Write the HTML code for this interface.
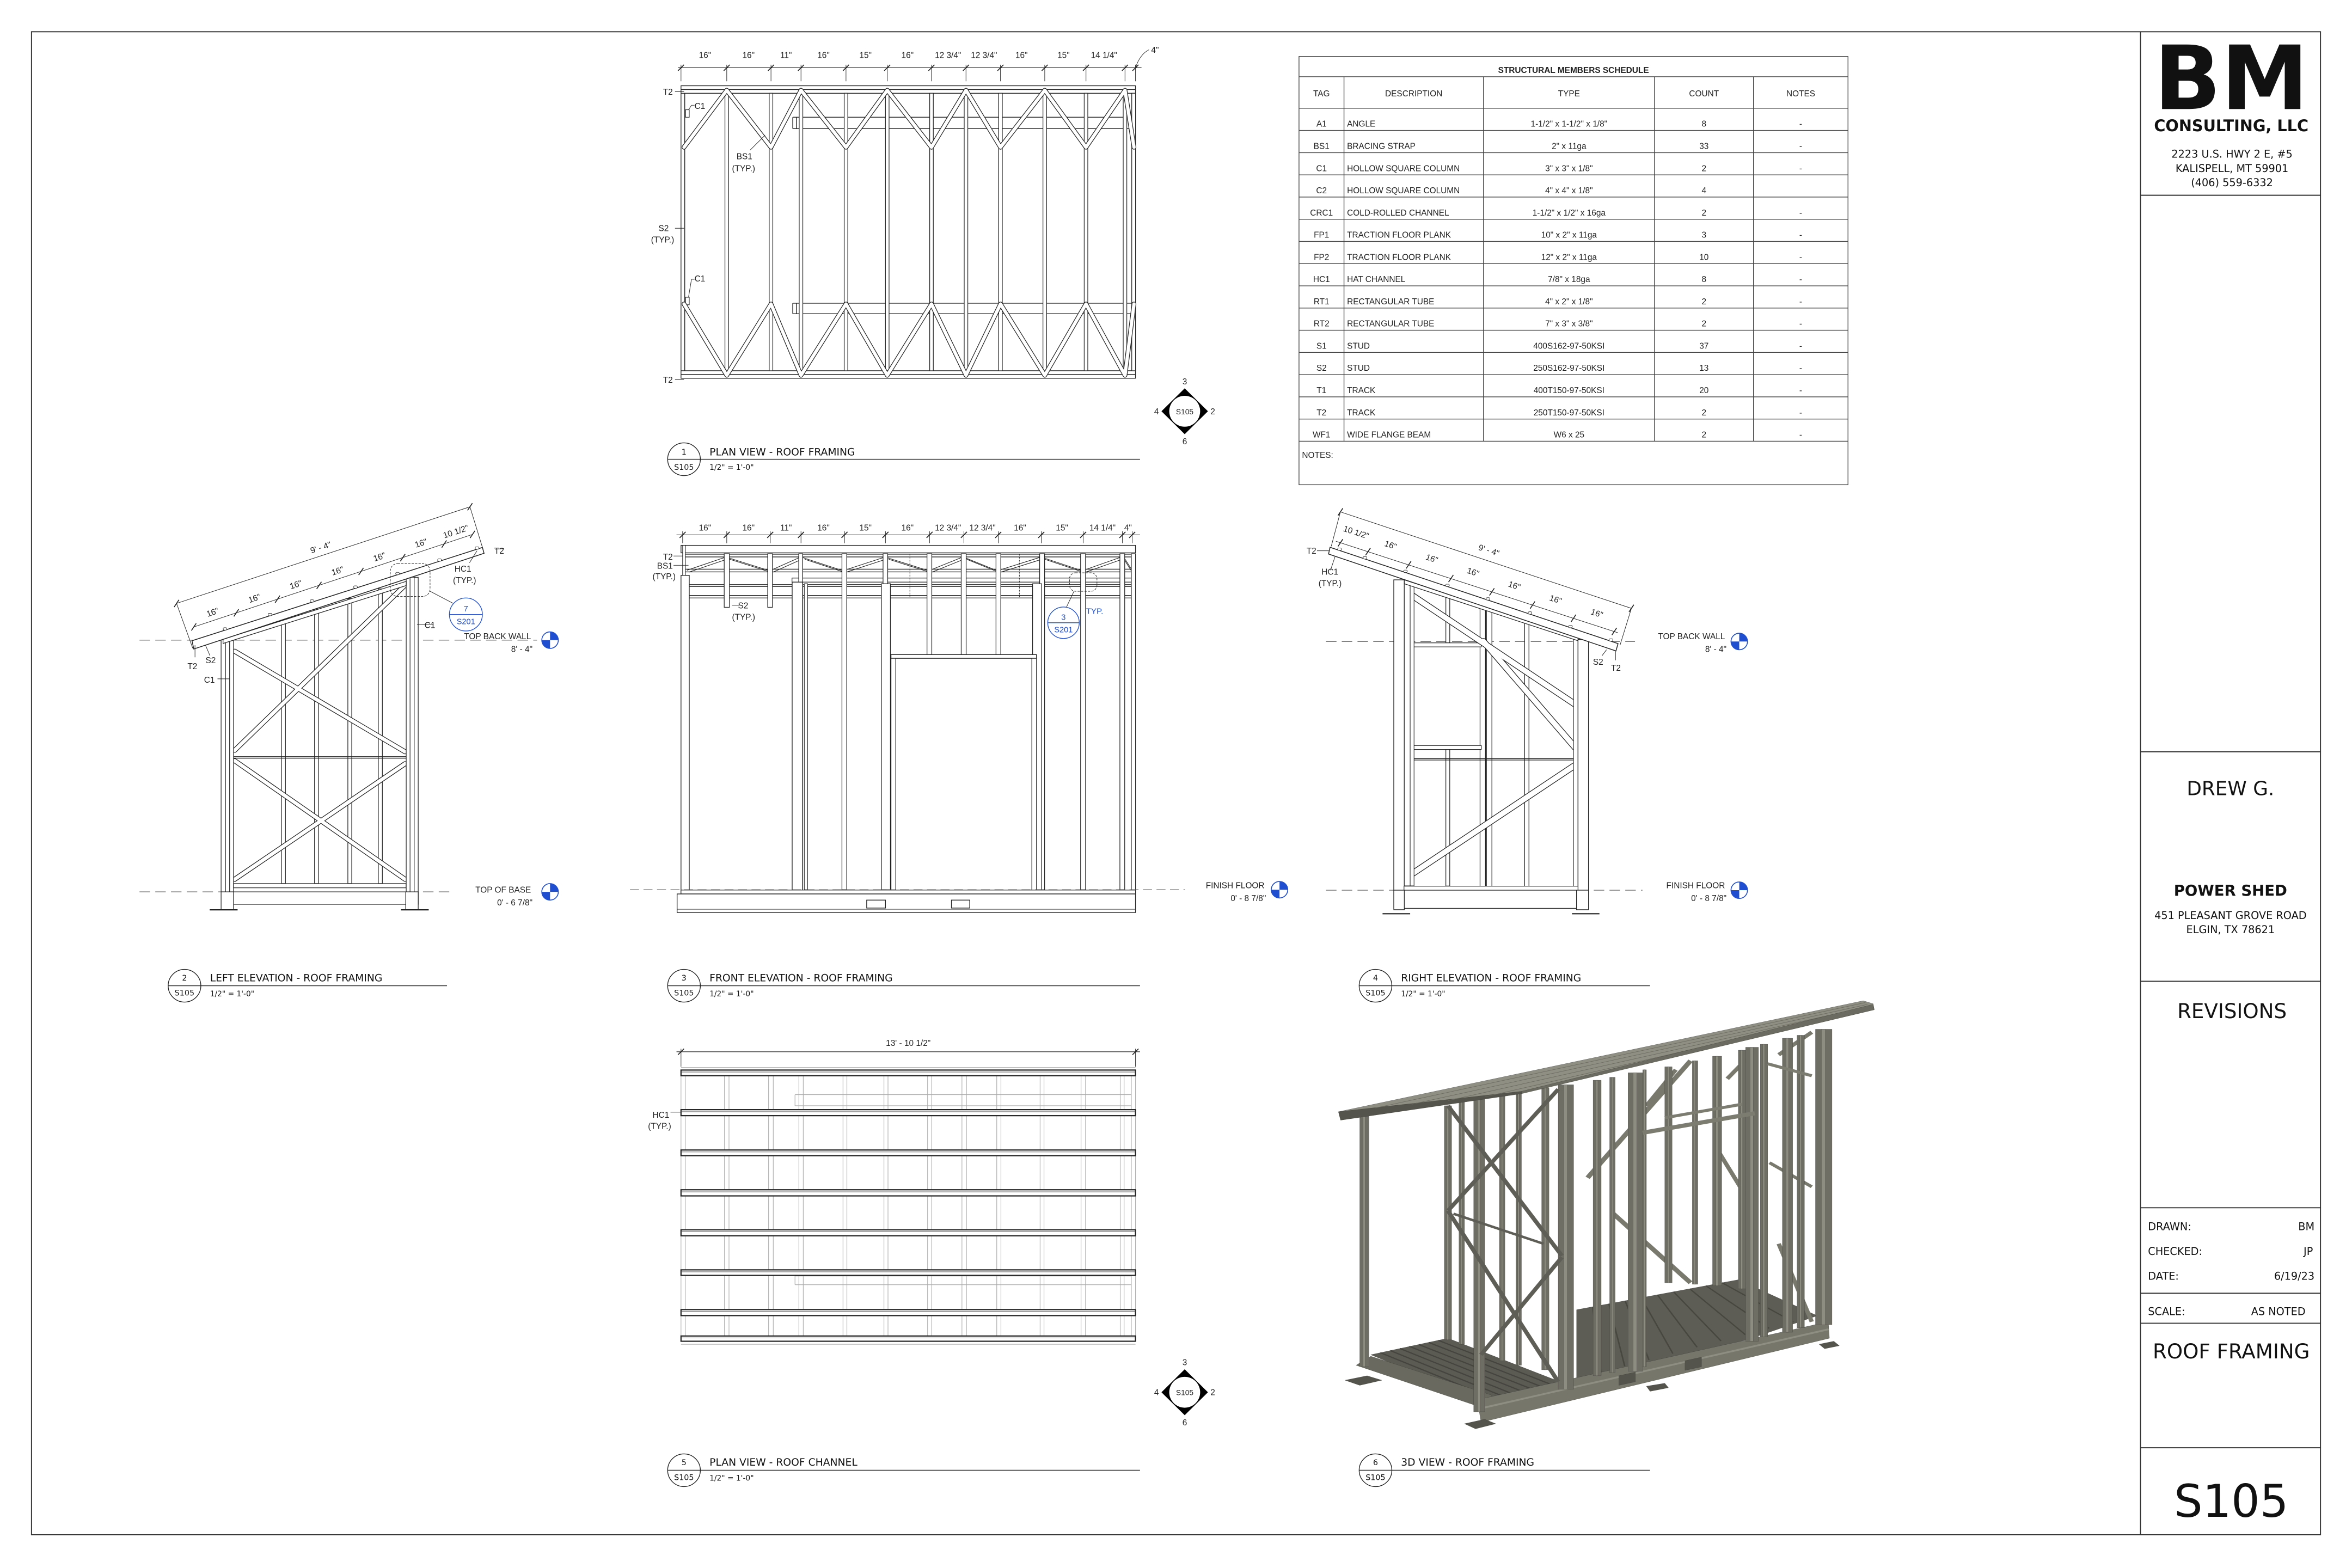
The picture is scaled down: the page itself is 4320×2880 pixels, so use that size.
<!DOCTYPE html>
<html><head><meta charset="utf-8"><style>
html,body{margin:0;padding:0;background:#fff}
svg{display:block}
.t{font-family:"Liberation Sans",sans-serif;font-size:5.6px;fill:#222}
.d{font-family:"DejaVu Sans","Liberation Sans",sans-serif;fill:#111}
.tb{font-family:"Liberation Sans",sans-serif;font-size:5.6px;fill:#222}
.bl{font-family:"Liberation Sans",sans-serif;fill:#1f4fd0}
.p3 polygon,.p3 rect{stroke:#3a3a34;stroke-width:0.35;vector-effect:non-scaling-stroke}
</style></head><body>
<svg xmlns="http://www.w3.org/2000/svg" xmlns:xlink="http://www.w3.org/1999/xlink" width="4320" height="2880" viewBox="0 0 1568 1045">
<defs>
<g id="lv"><circle r="5.5" fill="#fff" stroke="#1f4fd0" stroke-width="0.6"/><path d="M0,0V-5.5A5.5,5.5 0 0 1 5.5,0Z M0,0V5.5A5.5,5.5 0 0 1 -5.5,0Z" fill="#1f4fd0"/></g>
<g id="mk"><polygon points="0,-15.3 15.5,0 0,15.3 -15.5,0" fill="#000"/><circle r="10.3" fill="#fff"/></g>
<path id="zz" d="M456,98L484.5,60L514,98L534,60L564,98L591.5,60L621,98L644,60L667,98L696.5,60L724,98L750,60L756,98 M456,202.5L484.5,250L514,202.5L534,250L564,202.5L591.5,250L621,202.5L644,250L667,202.5L696.5,250L724,202.5L750,250L756,202.5" fill="none" stroke-linecap="round" stroke-linejoin="round"/>
<path id="lb" d="M156.5,434L270,501 M156.5,500L270,390 M156.5,507L270,586 M156.5,586L270,509" fill="none" stroke-linecap="round"/>
<path id="rb" d="M932,390.5L1057,474 M989,427.5L1056,505 M1056,506L933,588" fill="none" stroke-linecap="round" stroke-linejoin="round"/>
<path id="fd" d="M458,380L483,371.5M485,371.5L512,380M514,380L533,371.5M535,371.5L561,380M563,380L589,371.5M591,371.5L618,380M620,380L641,371.5M643,371.5L664,380M666,380L693,371.5M695,371.5L720.5,380M722.5,380L746.6,371.5M748.6,371.5L754,380" fill="none"/>
</defs>
<rect width="1568" height="1045" fill="#fff"/>

<!-- ===== 3D VIEW ===== -->
<g class="p3" transform="translate(882,653) scale(0.245,0.2)">
<polygon points="130,1250 340,1195 655,1345 450,1410" fill="#5c5b53"/>
<g stroke="#45443e" stroke-width="4"><line x1="156" y1="1243" x2="476" y2="1402"/><line x1="183" y1="1236" x2="501" y2="1394"/><line x1="209" y1="1229" x2="527" y2="1386"/><line x1="235" y1="1222" x2="552" y2="1377"/><line x1="261" y1="1216" x2="578" y2="1369"/><line x1="288" y1="1209" x2="604" y2="1361"/><line x1="314" y1="1202" x2="629" y2="1353"/></g>
<polygon points="690,1100 1130,1000 1345,1120 1190,1185 880,1300 690,1330" fill="#5e5d55"/>
<g stroke="#48473f" stroke-width="4"><line x1="734" y1="1090" x2="756" y2="1309"/><line x1="778" y1="1080" x2="821" y2="1288"/><line x1="822" y1="1070" x2="887" y2="1267"/><line x1="866" y1="1060" x2="952" y2="1246"/><line x1="910" y1="1050" x2="1018" y2="1225"/><line x1="954" y1="1040" x2="1083" y2="1204"/><line x1="998" y1="1030" x2="1149" y2="1183"/><line x1="1042" y1="1020" x2="1214" y2="1162"/><line x1="1086" y1="1010" x2="1280" y2="1141"/></g>
<polygon points="90,1285 130,1255 460,1385 430,1425" fill="#6a695f"/>
<polygon points="420,1400 1375,1140 1378,1195 430,1475" fill="#77766b"/>
<line x1="425" y1="1430" x2="1376" y2="1165" stroke="#8f8e83" stroke-width="6"/>
<polygon points="805,1320 850,1308 850,1340 805,1352" fill="#55544c"/><polygon points="985,1270 1030,1258 1030,1290 985,1302" fill="#55544c"/>
<polygon points="60,1335 120,1320 160,1335 100,1352" fill="#55544c"/><polygon points="385,1480 440,1465 470,1480 415,1497" fill="#55544c"/>
<polygon points="880,1355 930,1345 940,1360 890,1372" fill="#55544c"/><polygon points="1350,1215 1390,1205 1405,1220 1365,1230" fill="#55544c"/>
<g stroke="#7a796e"><line x1="720" y1="660" x2="1000" y2="270" stroke-width="14"/><line x1="790" y1="780" x2="1000" y2="1010" stroke-width="14"/><line x1="880" y1="420" x2="960" y2="300" stroke-width="12"/><line x1="1240" y1="880" x2="1330" y2="1140" stroke-width="12"/><line x1="1080" y1="580" x2="1150" y2="720" stroke-width="12"/><line x1="1215" y1="610" x2="1330" y2="690" stroke-width="10"/><line x1="1100" y1="330" x2="1180" y2="230" stroke-width="12"/><line x1="1240" y1="250" x2="1330" y2="175" stroke-width="12"/></g>
<g fill="#6f6e64">
<rect x="930" y="290" width="20" height="720"/><rect x="1005" y="270" width="15" height="745"/><rect x="1060" y="255" width="25" height="765"/><rect x="1130" y="235" width="20" height="795"/><rect x="1190" y="215" width="20" height="975"/><rect x="1250" y="195" width="28" height="980"/><rect x="1290" y="185" width="20" height="975"/><rect x="1340" y="165" width="45" height="985"/><rect x="480" y="385" width="15" height="885"/><rect x="525" y="375" width="15" height="910"/><rect x="595" y="360" width="20" height="940"/><rect x="735" y="335" width="22" height="985"/><rect x="780" y="325" width="15" height="985"/><rect x="830" y="310" width="40" height="995"/><rect x="870" y="300" width="10" height="990"/><rect x="1150" y="225" width="35" height="980"/><rect x="330" y="420" width="20" height="780"/><rect x="370" y="405" width="15" height="810"/><rect x="640" y="350" width="42" height="1015"/><rect x="410" y="395" width="30" height="1045"/><rect x="100" y="455" width="25" height="835"/>
</g>
<g fill="#8e8d82" style="stroke:none">
<rect x="937" y="290" width="5" height="720"/><rect x="1010" y="270" width="4" height="745"/><rect x="1069" y="255" width="6" height="765"/><rect x="1137" y="235" width="5" height="795"/><rect x="1197" y="215" width="5" height="975"/><rect x="1260" y="195" width="7" height="980"/><rect x="1297" y="185" width="5" height="975"/><rect x="1356" y="165" width="11" height="985"/><rect x="485" y="385" width="4" height="885"/><rect x="530" y="375" width="4" height="910"/><rect x="602" y="360" width="5" height="940"/><rect x="743" y="335" width="5" height="985"/><rect x="785" y="325" width="4" height="985"/><rect x="844" y="310" width="10" height="995"/><rect x="873" y="300" width="3" height="990"/><rect x="1162" y="225" width="9" height="980"/><rect x="337" y="420" width="5" height="780"/><rect x="375" y="405" width="4" height="810"/><rect x="655" y="350" width="10" height="1015"/><rect x="420" y="395" width="8" height="1045"/><rect x="109" y="455" width="6" height="835"/>
</g>
<g stroke="#5f5e56"><line x1="340" y1="420" x2="650" y2="920" stroke-width="12"/><line x1="640" y1="365" x2="340" y2="770" stroke-width="12"/><line x1="340" y1="770" x2="640" y2="1340" stroke-width="12"/><line x1="650" y1="925" x2="430" y2="1250" stroke-width="12"/><line x1="355" y1="780" x2="600" y2="880" stroke-width="8"/>
<line x1="870" y1="510" x2="1175" y2="445" stroke-width="14" stroke="#7d7c71"/><line x1="930" y1="460" x2="1140" y2="415" stroke-width="10" stroke="#7d7c71"/><line x1="1210" y1="280" x2="1330" y2="320" stroke-width="10" stroke="#7d7c71"/></g>
<polygon points="42,440 1470,70 1497,80 1500,100 540,378 48,468" fill="#908f84"/>
<polygon points="42,440 540,372 540,380 48,468" fill="#55544c"/>
<g stroke="#6a695f" stroke-width="1.5"><line x1="141.6" y1="427.6" x2="1476" y2="76"/><line x1="241.2" y1="415.2" x2="1482" y2="82"/><line x1="340.8" y1="402.8" x2="1488" y2="88"/><line x1="440.4" y1="390.4" x2="1494" y2="94"/></g>
<polygon points="540,372 1497,82 1500,100 540,380" fill="#6c6b61"/>
</g>

<!-- ===== DRAWINGS (line work) ===== -->
<g fill="#fff" stroke="#222" stroke-width="0.5">
<line x1="452" y1="45" x2="761" y2="45" stroke-width="0.4"/>
<path fill="none" stroke-width="0.6" d="M452,47l4-4M482.5,47l4-4M512,47l4-4M532,47l4-4M562,47l4-4M589.5,47l4-4M619,47l4-4M642,47l4-4M665,47l4-4M694.5,47l4-4M722,47l4-4M748,47l4-4M755,47l4-4"/>
<path fill="none" stroke-width="0.35" d="M454,43V54M484.5,43V54M514,43V54M534,43V54M564,43V54M591.5,43V54M621,43V54M644,43V54M667,43V54M696.5,43V54M724,43V54M750,43V54M757,43V54M757,45Q760,36 766,33"/>
<rect x="454" y="57" width="303" height="195"/>
<path fill="none" d="M454,59.5H757M454,62H757M454,247H757M454,249.5H757M456.5,62V247M528.5,78H757M528.5,85.6H757M528.5,78V85.6M531,78V85.6M528.5,202H757M528.5,209H757M528.5,202V209M531,202V209"/>
<g stroke-width="0.45">
<rect x="483.3" y="62" width="2.4" height="185"/><rect x="512.8" y="62" width="2.4" height="185"/><rect x="532.8" y="62" width="2.4" height="185"/><rect x="562.8" y="62" width="2.4" height="185"/><rect x="590.3" y="62" width="2.4" height="185"/><rect x="619.8" y="62" width="2.4" height="185"/><rect x="642.8" y="62" width="2.4" height="185"/><rect x="665.8" y="62" width="2.4" height="185"/><rect x="695.3" y="62" width="2.4" height="185"/><rect x="722.8" y="62" width="2.4" height="185"/><rect x="748.8" y="62" width="2.4" height="185"/><rect x="754.5" y="62" width="2.5" height="185"/>
</g>
<rect x="457" y="73" width="2.5" height="5" stroke-width="0.4"/><rect x="457" y="198" width="2.5" height="5" stroke-width="0.4"/>
<use xlink:href="#zz" stroke="#222" stroke-width="3.1"/>
<use xlink:href="#zz" stroke="#fff" stroke-width="2.2"/>
<path fill="none" stroke-width="0.35" d="M459,73L461,70H463M459,198L461,186H463M450,61H456M450,253H456M450,152H456M500,100L510,90"/>

<line x1="451" y1="356.4" x2="760" y2="356.4" stroke-width="0.4"/>
<path fill="none" stroke-width="0.6" d="M453.1,358.4l4-4M482.5,358.4l4-4M511.5,358.4l4-4M532,358.4l4-4M561,358.4l4-4M588.3,358.4l4-4M617.7,358.4l4-4M640.6,358.4l4-4M663.5,358.4l4-4M692.2,358.4l4-4M720.1,358.4l4-4M746.3,358.4l4-4M752.8,358.4l4-4"/>
<path fill="none" stroke-width="0.35" d="M455.1,354V362M484.5,354V362M513.5,354V362M534,354V362M563,354V362M590.3,354V362M619.7,354V362M642.6,354V362M665.5,354V362M694.2,354V362M722.1,354V362M748.3,354V362M754.8,354V362"/>
<path fill="none" d="M456,369.3H757M456,371.1H757M456,379.3H757M456,381.1H757"/>
<use xlink:href="#fd" stroke-width="0.4"/>
<use xlink:href="#fd" stroke-width="0.4" transform="translate(1.5,1.2)"/>
<rect x="454" y="363.4" width="303" height="5"/>
<path fill="none" d="M459.5,389.6H757M459.5,390.8H757M459.5,396.8H757M459.5,398.5H757"/>
<rect x="528" y="385.2" width="229" height="2.7" stroke-width="0.45"/>
<g stroke-width="0.45">
<rect x="482.8" y="369" width="3.5" height="35.7"/><rect x="511.8" y="369" width="3.2" height="35.7"/><rect x="532.5" y="369" width="2.6" height="224"/><rect x="561.3" y="369" width="3.2" height="224"/><rect x="588.7" y="369" width="3.1" height="224"/><rect x="618" y="369" width="3.2" height="67.2"/><rect x="640.8" y="369" width="3.3" height="67.2"/><rect x="664" y="369" width="3.2" height="67.2"/><rect x="693.1" y="369" width="3.3" height="224"/><rect x="720.4" y="369" width="3.3" height="224"/><rect x="746.6" y="369" width="3.2" height="224"/><rect x="754.2" y="369" width="2.8" height="226.8"/>
<rect x="454" y="383.4" width="5.5" height="212.4" stroke-width="0.5"/><rect x="455.1" y="363.4" width="1.8" height="20" stroke-width="0.4"/>
<rect x="528.1" y="387.9" width="7" height="207.9" stroke-width="0.5"/><rect x="536.2" y="389" width="2.2" height="204" stroke-width="0.4"/>
<rect x="587.6" y="389" width="6" height="204"/><rect x="688.4" y="389" width="6" height="204"/>
<rect x="594" y="436.2" width="97" height="2.5" stroke-width="0.5"/><rect x="594" y="438.7" width="3.2" height="154.5"/><rect x="687.9" y="438.7" width="3.1" height="154.5"/>
<rect x="454" y="593.2" width="303" height="2.6"/>
</g>
<path fill="none" stroke-width="0.35" stroke-dasharray="1.2,0.8" d="M606.6,369V398M679.6,369V398"/>
<rect x="451.4" y="595.8" width="305.6" height="12.4"/>
<line x1="451.4" y1="606" x2="757" y2="606" stroke-width="0.35"/>
<rect x="577.8" y="599.9" width="12.5" height="5.3"/><rect x="634.3" y="599.9" width="12.2" height="5.3"/>
<line x1="420" y1="593" x2="790" y2="593" stroke="#555" stroke-width="0.4" stroke-dasharray="6,3"/>
<circle cx="709" cy="415" r="10.5" fill="none" stroke="#1f4fd0"/>
<line x1="698.5" y1="415" x2="719.5" y2="415" stroke="#1f4fd0"/>
<rect x="713" y="381.7" width="18.3" height="12.3" rx="4" fill="none" stroke-width="0.35" stroke-dasharray="1.5,0.8"/>
<path fill="none" stroke-width="0.35" d="M716,394L711,404.5M449,370.5H455M449,376.7H459M488,403.3H493"/>

<line x1="93" y1="426.6" x2="358" y2="426.6" stroke="#555" stroke-width="0.4" stroke-dasharray="7,3.5"/>
<line x1="93" y1="594.4" x2="300" y2="594.4" stroke="#555" stroke-width="0.4" stroke-dasharray="7,3.5"/>
<g stroke-width="0.45">
<rect x="187.6" y="412.85" width="2.7" height="176.05"/><rect x="209.7" y="405.87" width="2.7" height="183.03"/><rect x="231.9" y="398.89" width="2.6" height="190"/><rect x="252.2" y="392.44" width="2.7" height="196.46"/>
</g>
<path fill="none" d="M155.7,504.3H270.8M155.7,505.3H270.8"/>
<use xlink:href="#lb" stroke="#222" stroke-width="3.3"/>
<use xlink:href="#lb" stroke="#fff" stroke-width="2.4"/>
<g stroke-width="0.45">
<rect x="147.4" y="426" width="3" height="168.4"/><rect x="150.4" y="426" width="2.7" height="168.4" stroke-width="0.35"/><rect x="153.1" y="426" width="2.6" height="168.4"/>
<rect x="270.8" y="384.7" width="2.6" height="209.7"/><rect x="273.4" y="384.7" width="2.7" height="209.7" stroke-width="0.35"/><rect x="276.1" y="384.7" width="2.7" height="209.7"/>
<polygon points="148.7,426 270.8,387.4 270.8,390.2 148.7,428.8"/>
</g>
<polygon points="128,427 321.6,364.8 322.7,368.7 129.2,432.5" stroke-width="0.55"/>
<g stroke-width="0.3">
<rect x="148.8" y="418.3" width="2.4" height="1.6" rx="0.6"/><rect x="178.8" y="408.7" width="2.4" height="1.6" rx="0.6"/><rect x="206.8" y="399.7" width="2.4" height="1.6" rx="0.6"/><rect x="235.8" y="390.4" width="2.4" height="1.6" rx="0.6"/><rect x="263.8" y="381.4" width="2.4" height="1.6" rx="0.6"/><rect x="291.8" y="372.4" width="2.4" height="1.6" rx="0.6"/><rect x="316.8" y="364.4" width="2.4" height="1.6" rx="0.6"/>
</g>
<g stroke-width="0.45">
<rect x="155.7" y="588.9" width="115" height="2.8"/><rect x="147.4" y="594.4" width="131.4" height="8.3"/>
<rect x="147.4" y="594.4" width="8.3" height="12"/><rect x="270.5" y="594.4" width="8.3" height="12"/>
</g>
<path fill="none" stroke-width="0.8" d="M139.8,606.4H158.4M267.3,606.4H285.8"/>
<path fill="none" stroke-width="0.35" d="M117.7,402.1L313.3,337.7M129.2,417.8L315,356.1M117.7,402.1L128.5,432M313.3,337.7L322,366"/>
<path fill="none" stroke-width="0.6" d="M116.1,404.5l3.2-4.8M311.7,340.1l3.2-4.8M127.6,420.2l3.2-4.8M155.9,410.8l3.2-4.8M183.4,401.7l3.2-4.8M211.1,392.5l3.2-4.8M239.1,383.2l3.2-4.8M266.9,374l3.2-4.8M294.5,364.9l3.2-4.8M313.4,358.5l3.2-4.8"/>
<circle cx="310.6" cy="409.5" r="11" fill="none" stroke="#1f4fd0"/>
<line x1="299.6" y1="409.5" x2="321.6" y2="409.5" stroke="#1f4fd0"/>
<rect x="260.2" y="375.5" width="26.5" height="22" rx="5" fill="none" stroke-width="0.35" stroke-dasharray="1.5,0.8"/>
<path fill="none" stroke-width="0.35" d="M286.7,394L302,402M336,365.5L330,366M318,367L313,375M289,416H278M130,438V430M140,437L137,430M145,452.4H153"/>

<line x1="884" y1="427.5" x2="1090" y2="427.5" stroke="#555" stroke-width="0.4" stroke-dasharray="7,3.5"/>
<line x1="884" y1="593.3" x2="1095" y2="593.3" stroke="#555" stroke-width="0.4" stroke-dasharray="7,3.5"/>
<g stroke-width="0.45">
<rect x="963.9" y="395.5" width="2.6" height="32.9"/><rect x="963.9" y="499.5" width="2.6" height="91"/>
<rect x="986.7" y="402.96" width="3.6" height="187.64"/><rect x="991" y="404.37" width="3.6" height="186.23"/>
<rect x="1016.4" y="412.71" width="2.9" height="177.89"/>
<rect x="941.5" y="428.4" width="46" height="2.7"/><rect x="941.5" y="496.8" width="46" height="2.7"/>
</g>
<path fill="none" d="M942.7,505.5H1049M942.7,506.5H1049"/>
<use xlink:href="#rb" stroke="#222" stroke-width="4.4"/>
<use xlink:href="#rb" stroke="#fff" stroke-width="3.5"/>
<g stroke-width="0.45">
<rect x="929.2" y="386.4" width="7" height="206.9" stroke-width="0.5"/><rect x="936.2" y="386.4" width="3.9" height="204" stroke-width="0.4"/><rect x="940.1" y="386.4" width="2.6" height="204" stroke-width="0.4"/>
<rect x="1049" y="426" width="3" height="165" stroke-width="0.4"/><rect x="1052" y="426.2" width="7" height="167.1" stroke-width="0.5"/>
<polygon points="936.2,386.4 1052,424.4 1052,427 936.2,389"/>
</g>
<polygon points="886.7,364.7 1078.7,428.9 1077.3,433.8 885.7,369.2" stroke-width="0.55"/>
<g stroke-width="0.3">
<rect x="891.8" y="365.2" width="2.4" height="1.6" rx="0.6"/><rect x="908.8" y="370.9" width="2.4" height="1.6" rx="0.6"/><rect x="935.8" y="379.9" width="2.4" height="1.6" rx="0.6"/><rect x="963.8" y="389.3" width="2.4" height="1.6" rx="0.6"/><rect x="990.8" y="398.3" width="2.4" height="1.6" rx="0.6"/><rect x="1018.8" y="407.7" width="2.4" height="1.6" rx="0.6"/><rect x="1045.8" y="416.7" width="2.4" height="1.6" rx="0.6"/><rect x="1072.8" y="425.7" width="2.4" height="1.6" rx="0.6"/>
</g>
<g stroke-width="0.45">
<rect x="936" y="590.6" width="116" height="2.7"/><rect x="929.2" y="593.3" width="129.8" height="12.1"/>
<rect x="929.2" y="593.3" width="7" height="13"/><rect x="1051" y="593.3" width="8" height="13"/>
</g>
<path fill="none" stroke-width="0.8" d="M921.7,609H940.1M1048,609H1066.3"/>
<path fill="none" stroke-width="0.35" d="M893.6,341.1L1087.6,405.4M890.6,360.7L1078.7,421.7M893.6,341.1L887.5,364M1087.6,405.4L1080,430M878,367H886M887,380L890,371M1068,437L1071,433M1077,440V434"/>
<path fill="none" stroke-width="0.6" d="M892,343.5l3.2-4.8M1086,407.8l3.2-4.8M892,364.1l3.2-4.8M910.4,370l3.2-4.8M937.5,378.8l3.2-4.8M965.7,387.9l3.2-4.8M993,396.8l3.2-4.8M1020.1,405.6l3.2-4.8M1047.4,414.4l3.2-4.8M1074.6,423.2l3.2-4.8"/>

<line x1="451" y1="701" x2="760" y2="701" stroke-width="0.4"/>
<path fill="none" stroke-width="0.6" d="M452,703l4-4M755,703l4-4"/>
<path fill="none" stroke-width="0.35" d="M454,699V711M757,699V711M447,741.3H456"/>
<path fill="none" stroke="#aaa" stroke-width="0.4" d="M454,717V892M456.8,717V892M483,717V892M486,717V892M512.4,717V892M515.5,717V892M532.6,717V892M535.5,717V892M562,717V892M564.6,717V892M589.3,717V892M592,717V892M618.4,717V892M621.2,717V892M641.3,717V892M644.3,717V892M664.5,717V892M667.3,717V892M693.4,717V892M696,717V892M720.7,717V892M723.7,717V892M746.8,717V892M749.4,717V892M754.2,717V892M757,717V892M530,729.6H754M530,737H754M530,729.6V737M530,850.5H754M530,856.3H754M530,850.5V856.3M454,711.5H757M454,896H757"/>
<g stroke-width="0.8">
<rect x="454" y="713.2" width="303" height="3.8"/><rect x="454" y="739.6" width="303" height="4"/><rect x="454" y="766.5" width="303" height="3.8"/><rect x="454" y="793" width="303" height="4.1"/><rect x="454" y="819.7" width="303" height="4"/><rect x="454" y="846.4" width="303" height="3.7"/><rect x="454" y="872.9" width="303" height="4"/><rect x="454" y="890.5" width="303" height="3.5"/>
</g>
<path fill="none" stroke="#444" stroke-width="0.35" d="M454,714.5H757M454,741H757M454,767.8H757M454,794.4H757M454,821H757M454,847.7H757M454,874.2H757M454,891.8H757"/>
</g>

<use xlink:href="#lv" x="853" y="593"/>
<use xlink:href="#lv" x="366.7" y="426.6"/>
<use xlink:href="#lv" x="366.7" y="594.4"/>
<use xlink:href="#lv" x="1159.5" y="427.5"/>
<use xlink:href="#lv" x="1159.5" y="593.3"/>
<use xlink:href="#mk" x="789.8" y="274"/>
<use xlink:href="#mk" x="789.8" y="928"/>

<g fill="#fff" stroke="#222" stroke-width="0.5">
<circle cx="456" cy="306" r="10.9"/><line x1="445.1" y1="306" x2="760" y2="306"/>
<circle cx="123" cy="657" r="10.9"/><line x1="112.1" y1="657" x2="298" y2="657"/>
<circle cx="456" cy="657" r="10.9"/><line x1="445.1" y1="657" x2="760" y2="657"/>
<circle cx="917" cy="657" r="10.9"/><line x1="906.1" y1="657" x2="1100" y2="657"/>
<circle cx="456" cy="980" r="10.9"/><line x1="445.1" y1="980" x2="760" y2="980"/>
<circle cx="917" cy="980" r="10.9"/><line x1="906.1" y1="980" x2="1100" y2="980"/>
</g>

<g fill="none" stroke="#333" stroke-width="0.7">
<rect x="21" y="21" width="1526" height="1002"/>
<line x1="1427" y1="21" x2="1427" y2="1023"/>
<line x1="1427" y1="130" x2="1547" y2="130"/>
<line x1="1427" y1="501" x2="1547" y2="501"/>
<line x1="1427" y1="654" x2="1547" y2="654"/>
<line x1="1427" y1="805" x2="1547" y2="805"/>
<line x1="1427" y1="862" x2="1547" y2="862"/>
<line x1="1427" y1="882" x2="1547" y2="882"/>
<line x1="1427" y1="965" x2="1547" y2="965"/>
</g>
<text x="1487.5" y="72.5" class="d" font-size="59" font-weight="bold" text-anchor="middle" textLength="103" lengthAdjust="spacingAndGlyphs">BM</text>
<text x="1487.5" y="87.3" class="d" font-size="10.6" font-weight="bold" text-anchor="middle" textLength="103" lengthAdjust="spacingAndGlyphs">CONSULTING, LLC</text>
<text x="1488" y="105" class="d" font-size="7" text-anchor="middle">2223 U.S. HWY 2 E, #5</text>
<text x="1488" y="114.5" class="d" font-size="7" text-anchor="middle">KALISPELL, MT 59901</text>
<text x="1488" y="124" class="d" font-size="7" text-anchor="middle">(406) 559-6332</text>
<text x="1487" y="530" class="d" font-size="13" text-anchor="middle">DREW G.</text>
<text x="1487" y="597" class="d" font-size="10" font-weight="bold" text-anchor="middle">POWER SHED</text>
<text x="1487" y="612.5" class="d" font-size="7" text-anchor="middle">451 PLEASANT GROVE ROAD</text>
<text x="1487" y="622" class="d" font-size="7" text-anchor="middle">ELGIN, TX 78621</text>
<text x="1488" y="678.5" class="d" font-size="13.5" text-anchor="middle">REVISIONS</text>
<text x="1432" y="820" class="d" font-size="7">DRAWN:</text>
<text x="1543" y="820" class="d" font-size="7" text-anchor="end">BM</text>
<text x="1432" y="836.5" class="d" font-size="7">CHECKED:</text>
<text x="1542" y="836.5" class="d" font-size="7" text-anchor="end">JP</text>
<text x="1432" y="853" class="d" font-size="7">DATE:</text>
<text x="1543" y="853" class="d" font-size="7" text-anchor="end">6/19/23</text>
<text x="1432" y="876.5" class="d" font-size="7">SCALE:</text>
<text x="1537" y="876.5" class="d" font-size="7" text-anchor="end">AS NOTED</text>
<text x="1487.5" y="905.5" class="d" font-size="13.5" text-anchor="middle">ROOF FRAMING</text>
<text x="1487.5" y="1011" class="d" font-size="30" text-anchor="middle">S105</text>

<g fill="none" stroke="#444" stroke-width="0.5">
<rect x="866" y="37.5" width="366" height="285.5"/>
<line x1="866" y1="51" x2="1232" y2="51"/>
<line x1="866" y1="72" x2="1232" y2="72"/>
<line x1="866" y1="294" x2="1232" y2="294"/>
<line x1="896" y1="51" x2="896" y2="294"/>
<line x1="989" y1="51" x2="989" y2="294"/>
<line x1="1103" y1="51" x2="1103" y2="294"/>
<line x1="1169" y1="51" x2="1169" y2="294"/>
<path d="M866,86.8H1232M866,101.6H1232M866,116.4H1232M866,131.2H1232M866,146H1232M866,160.8H1232M866,175.6H1232M866,190.4H1232M866,205.2H1232M866,220H1232M866,234.8H1232M866,249.6H1232M866,264.4H1232M866,279.2H1232"/>
</g>
<text x="1049" y="48.5" class="tb" font-weight="bold" font-size="5.3" text-anchor="middle">STRUCTURAL MEMBERS SCHEDULE</text>
<g class="tb" text-anchor="middle">
<text x="881" y="64">TAG</text><text x="942.5" y="64">DESCRIPTION</text><text x="1046" y="64">TYPE</text><text x="1136" y="64">COUNT</text><text x="1200.5" y="64">NOTES</text>
</g>
<g class="tb">
<text y="84.3"><tspan x="881" text-anchor="middle">A1</tspan><tspan x="898">ANGLE</tspan><tspan x="1046" text-anchor="middle">1-1/2" x 1-1/2" x 1/8"</tspan><tspan x="1136" text-anchor="middle">8</tspan><tspan x="1200.5" text-anchor="middle">-</tspan></text>
<text y="99.1"><tspan x="881" text-anchor="middle">BS1</tspan><tspan x="898">BRACING STRAP</tspan><tspan x="1046" text-anchor="middle">2" x 11ga</tspan><tspan x="1136" text-anchor="middle">33</tspan><tspan x="1200.5" text-anchor="middle">-</tspan></text>
<text y="113.9"><tspan x="881" text-anchor="middle">C1</tspan><tspan x="898">HOLLOW SQUARE COLUMN</tspan><tspan x="1046" text-anchor="middle">3" x 3" x 1/8"</tspan><tspan x="1136" text-anchor="middle">2</tspan><tspan x="1200.5" text-anchor="middle">-</tspan></text>
<text y="128.7"><tspan x="881" text-anchor="middle">C2</tspan><tspan x="898">HOLLOW SQUARE COLUMN</tspan><tspan x="1046" text-anchor="middle">4" x 4" x 1/8"</tspan><tspan x="1136" text-anchor="middle">4</tspan></text>
<text y="143.5"><tspan x="881" text-anchor="middle">CRC1</tspan><tspan x="898">COLD-ROLLED CHANNEL</tspan><tspan x="1046" text-anchor="middle">1-1/2" x 1/2" x 16ga</tspan><tspan x="1136" text-anchor="middle">2</tspan><tspan x="1200.5" text-anchor="middle">-</tspan></text>
<text y="158.3"><tspan x="881" text-anchor="middle">FP1</tspan><tspan x="898">TRACTION FLOOR PLANK</tspan><tspan x="1046" text-anchor="middle">10" x 2" x 11ga</tspan><tspan x="1136" text-anchor="middle">3</tspan><tspan x="1200.5" text-anchor="middle">-</tspan></text>
<text y="173.1"><tspan x="881" text-anchor="middle">FP2</tspan><tspan x="898">TRACTION FLOOR PLANK</tspan><tspan x="1046" text-anchor="middle">12" x 2" x 11ga</tspan><tspan x="1136" text-anchor="middle">10</tspan><tspan x="1200.5" text-anchor="middle">-</tspan></text>
<text y="187.9"><tspan x="881" text-anchor="middle">HC1</tspan><tspan x="898">HAT CHANNEL</tspan><tspan x="1046" text-anchor="middle">7/8" x 18ga</tspan><tspan x="1136" text-anchor="middle">8</tspan><tspan x="1200.5" text-anchor="middle">-</tspan></text>
<text y="202.7"><tspan x="881" text-anchor="middle">RT1</tspan><tspan x="898">RECTANGULAR TUBE</tspan><tspan x="1046" text-anchor="middle">4" x 2" x 1/8"</tspan><tspan x="1136" text-anchor="middle">2</tspan><tspan x="1200.5" text-anchor="middle">-</tspan></text>
<text y="217.5"><tspan x="881" text-anchor="middle">RT2</tspan><tspan x="898">RECTANGULAR TUBE</tspan><tspan x="1046" text-anchor="middle">7" x 3" x 3/8"</tspan><tspan x="1136" text-anchor="middle">2</tspan><tspan x="1200.5" text-anchor="middle">-</tspan></text>
<text y="232.3"><tspan x="881" text-anchor="middle">S1</tspan><tspan x="898">STUD</tspan><tspan x="1046" text-anchor="middle">400S162-97-50KSI</tspan><tspan x="1136" text-anchor="middle">37</tspan><tspan x="1200.5" text-anchor="middle">-</tspan></text>
<text y="247.1"><tspan x="881" text-anchor="middle">S2</tspan><tspan x="898">STUD</tspan><tspan x="1046" text-anchor="middle">250S162-97-50KSI</tspan><tspan x="1136" text-anchor="middle">13</tspan><tspan x="1200.5" text-anchor="middle">-</tspan></text>
<text y="261.9"><tspan x="881" text-anchor="middle">T1</tspan><tspan x="898">TRACK</tspan><tspan x="1046" text-anchor="middle">400T150-97-50KSI</tspan><tspan x="1136" text-anchor="middle">20</tspan><tspan x="1200.5" text-anchor="middle">-</tspan></text>
<text y="276.7"><tspan x="881" text-anchor="middle">T2</tspan><tspan x="898">TRACK</tspan><tspan x="1046" text-anchor="middle">250T150-97-50KSI</tspan><tspan x="1136" text-anchor="middle">2</tspan><tspan x="1200.5" text-anchor="middle">-</tspan></text>
<text y="291.5"><tspan x="881" text-anchor="middle">WF1</tspan><tspan x="898">WIDE FLANGE BEAM</tspan><tspan x="1046" text-anchor="middle">W6 x 25</tspan><tspan x="1136" text-anchor="middle">2</tspan><tspan x="1200.5" text-anchor="middle">-</tspan></text>
<text x="868" y="305">NOTES:</text>
</g>

<g class="d" font-size="5.2" text-anchor="middle">
<text x="456" y="303">1</text><text x="456" y="313">S105</text>
<text x="123" y="653.5">2</text><text x="123" y="663.5">S105</text>
<text x="456" y="653.5">3</text><text x="456" y="663.5">S105</text>
<text x="917" y="653.5">4</text><text x="917" y="663.5">S105</text>
<text x="456" y="976.5">5</text><text x="456" y="986.5">S105</text>
<text x="917" y="976.5">6</text><text x="917" y="986.5">S105</text>
</g>
<g class="d" font-size="6.8">
<text x="473" y="303.5">PLAN VIEW - ROOF FRAMING</text>
<text x="140" y="654">LEFT ELEVATION - ROOF FRAMING</text>
<text x="473" y="654">FRONT ELEVATION - ROOF FRAMING</text>
<text x="934" y="654">RIGHT ELEVATION - ROOF FRAMING</text>
<text x="473" y="977">PLAN VIEW - ROOF CHANNEL</text>
<text x="934" y="977">3D VIEW - ROOF FRAMING</text>
</g>
<g class="d" font-size="5">
<text x="473" y="313">1/2" = 1'-0"</text>
<text x="140" y="664">1/2" = 1'-0"</text>
<text x="473" y="664">1/2" = 1'-0"</text>
<text x="934" y="664">1/2" = 1'-0"</text>
<text x="473" y="987">1/2" = 1'-0"</text>
</g>

<g class="t" font-size="5.8" text-anchor="middle">
<text x="789.8" y="256">3</text><text x="771" y="276">4</text><text x="808.5" y="276">2</text><text x="789.8" y="296">6</text>
<text x="789.8" y="910">3</text><text x="771" y="930">4</text><text x="808.5" y="930">2</text><text x="789.8" y="950">6</text>
<text x="789.8" y="276" font-size="5">S105</text>
<text x="789.8" y="930" font-size="5">S105</text>
</g>

<g class="t" font-size="5.3">
<text x="442" y="63">T2</text>
<text x="442" y="255">T2</text>
<text x="463" y="72.5">C1</text>
<text x="463" y="187.5">C1</text>
<text x="491" y="106">BS1</text>
<text x="488" y="114">(TYP.)</text>
<text x="439" y="154">S2</text>
<text x="434" y="161.5">(TYP.)</text>
</g>
<g class="t" font-size="5.2" text-anchor="middle">
<text x="470" y="38.5">16"</text><text x="499" y="38.5">16"</text><text x="524" y="38.5">11"</text><text x="549" y="38.5">16"</text><text x="577" y="38.5">15"</text><text x="605" y="38.5">16"</text><text x="632" y="38.5">12 3/4"</text><text x="656" y="38.5">12 3/4"</text><text x="681" y="38.5">16"</text><text x="709" y="38.5">15"</text><text x="736" y="38.5">14 1/4"</text>
<text x="770" y="35">4"</text>
</g>
<g class="t" font-size="5.2" text-anchor="middle">
<text x="470" y="353.5">16"</text><text x="499" y="353.5">16"</text><text x="524" y="353.5">11"</text><text x="549" y="353.5">16"</text><text x="577" y="353.5">15"</text><text x="605" y="353.5">16"</text><text x="632" y="353.5">12 3/4"</text><text x="655" y="353.5">12 3/4"</text><text x="680" y="353.5">16"</text><text x="708" y="353.5">15"</text><text x="735" y="353.5">14 1/4"</text><text x="752" y="353.5">4"</text>
</g>
<g class="t" font-size="5.3">
<text x="442" y="373">T2</text>
<text x="438" y="379">BS1</text>
<text x="435" y="386">(TYP.)</text>
<text x="492" y="405.5">S2</text>
<text x="488" y="413">(TYP.)</text>
</g>
<text x="724" y="409" class="bl" font-size="5.5">TYP.</text>
<text x="709" y="413" class="bl" font-size="5.3" text-anchor="middle">3</text>
<text x="709" y="421.5" class="bl" font-size="5.3" text-anchor="middle">S201</text>
<g class="t" font-size="5.3">
<text x="329.5" y="369">T2</text>
<text x="303" y="381">HC1</text>
<text x="302" y="388.5">(TYP.)</text>
<text x="283" y="418.5">C1</text>
<text x="125" y="446">T2</text>
<text x="137" y="442">S2</text>
<text x="136" y="455">C1</text>
</g>
<text x="310.6" y="407.5" class="bl" font-size="5.3" text-anchor="middle">7</text>
<text x="310.6" y="416" class="bl" font-size="5.3" text-anchor="middle">S201</text>
<g class="t" font-size="8.6" text-anchor="end">
<text x="354" y="426">TOP BACK WALL</text>
<text x="355" y="434.5">8' - 4"</text>
<text x="354" y="595">TOP OF BASE</text>
<text x="355" y="603.5">0' - 6 7/8"</text>
<text x="843" y="592">FINISH FLOOR</text>
<text x="844" y="600.5">0' - 8 7/8"</text>
<text x="1150" y="426">TOP BACK WALL</text>
<text x="1151" y="434.5">8' - 4"</text>
<text x="1150" y="592">FINISH FLOOR</text>
<text x="1151" y="600.5">0' - 8 7/8"</text>
</g>
<g class="t" font-size="5.3">
<text transform="translate(142.3,409.8) rotate(-18.4)" text-anchor="middle">16"</text>
<text transform="translate(170.2,400.5) rotate(-18.4)" text-anchor="middle">16"</text>
<text transform="translate(197.8,391.4) rotate(-18.4)" text-anchor="middle">16"</text>
<text transform="translate(225.6,382.2) rotate(-18.4)" text-anchor="middle">16"</text>
<text transform="translate(253.5,372.9) rotate(-18.4)" text-anchor="middle">16"</text>
<text transform="translate(281.2,363.7) rotate(-18.4)" text-anchor="middle">16"</text>
<text transform="translate(304.5,356) rotate(-18.4)" text-anchor="middle">10 1/2"</text>
<text transform="translate(214.4,366.6) rotate(-18.4)" text-anchor="middle">9' - 4"</text>
<text transform="translate(903.5,356.5) rotate(18)" text-anchor="middle">10 1/2"</text>
<text transform="translate(926.5,365) rotate(18)" text-anchor="middle">16"</text>
<text transform="translate(954,374) rotate(18)" text-anchor="middle">16"</text>
<text transform="translate(981.5,383) rotate(18)" text-anchor="middle">16"</text>
<text transform="translate(1009,392) rotate(18)" text-anchor="middle">16"</text>
<text transform="translate(1036.5,401.2) rotate(18)" text-anchor="middle">16"</text>
<text transform="translate(1064,410.5) rotate(18)" text-anchor="middle">16"</text>
<text transform="translate(992,368.5) rotate(18)" text-anchor="middle">9' - 4"</text>
<text x="871" y="369">T2</text>
<text x="881" y="383">HC1</text>
<text x="879" y="390.5">(TYP.)</text>
<text x="1062" y="443">S2</text>
<text x="1074" y="447">T2</text>
<text x="435" y="745">HC1</text>
<text x="432" y="752.5">(TYP.)</text>
<text x="605.5" y="697" text-anchor="middle">13' - 10 1/2"</text>
</g>
</svg>
</body></html>
